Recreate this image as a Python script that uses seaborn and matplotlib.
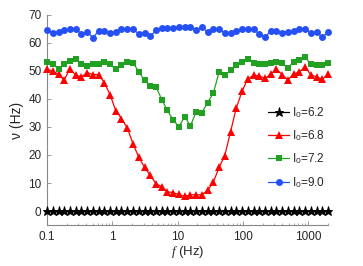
import numpy as np
import pandas as pd
import matplotlib
matplotlib.use('Agg')
import matplotlib.pyplot as plt
import matplotlib.ticker as mticker
import seaborn as sns

sns.set_style('ticks')
plt.rcParams['font.family'] = ['Liberation Sans', 'DejaVu Sans']
plt.rcParams['mathtext.fontset'] = 'custom'
plt.rcParams['mathtext.rm'] = 'Liberation Sans'
plt.rcParams['mathtext.it'] = 'Liberation Serif:italic'

# stimulation frequency (Hz)
freq = [0.1, 0.122, 0.150, 0.183, 0.224, 0.275, 0.336, 0.411, 0.504, 0.617,
        0.755, 0.924, 1.13, 1.38, 1.70, 2.07, 2.54, 3.11, 3.81, 4.66,
        5.70, 6.98, 8.55, 10.5, 12.8, 15.7, 19.2, 23.5, 28.7, 35.2,
        43.1, 52.7, 64.5, 79.0, 96.7, 118, 145, 177, 217, 265,
        325, 397, 486, 595, 729, 892, 1092, 1337, 1636, 2000]

nu_62 = [0.0] * 50

nu_68 = [50.6, 50.0, 48.8, 46.7, 50.8, 48.5, 47.9, 49.4, 48.7, 48.7,
         45.8, 41.5, 35.8, 33.0, 29.6, 24.0, 19.2, 15.6, 12.7, 9.8,
         8.6, 6.9, 6.5, 5.9, 5.2, 5.8, 5.8, 5.8, 7.4, 10.3,
         15.6, 19.8, 28.3, 36.8, 42.7, 47.2, 48.4, 48.3, 47.3, 48.8,
         50.6, 48.7, 46.8, 48.8, 49.7, 51.3, 48.7, 47.8, 47.0, 48.8]

nu_72 = [53.2, 52.6, 50.8, 52.6, 53.5, 54.4, 52.3, 51.7, 52.3, 52.6,
         53.2, 52.4, 50.6, 52.0, 53.2, 53.0, 49.7, 46.6, 44.6, 44.4,
         39.8, 35.9, 32.4, 30.1, 33.7, 30.4, 35.4, 35.1, 38.7, 42.1,
         49.6, 48.4, 50.2, 52.2, 53.3, 54.4, 52.7, 52.5, 52.5, 53.0,
         53.3, 52.7, 51.0, 53.3, 53.9, 54.9, 52.5, 52.0, 52.0, 53.0]

nu_90 = [64.5, 63.6, 63.9, 64.5, 65.0, 65.0, 63.2, 63.9, 61.9, 64.2,
         64.4, 63.5, 63.9, 64.8, 65.0, 64.9, 63.2, 63.7, 62.4, 64.5,
         65.4, 65.4, 65.4, 65.6, 65.8, 65.8, 64.6, 65.6, 63.9, 64.9,
         64.8, 63.7, 63.7, 64.3, 64.9, 65.1, 64.8, 63.3, 62.1, 64.2,
         64.3, 63.6, 63.9, 64.2, 65.0, 65.0, 63.6, 63.9, 62.1, 63.8]

labels = ['I$_0$=6.2', 'I$_0$=6.8', 'I$_0$=7.2', 'I$_0$=9.0']
series = [nu_62, nu_68, nu_72, nu_90]
colors = ['#000000', '#ff0000', '#22a022', '#2450f5']
markers = ['*', '^', 's', 'o']
msizes = [6.5, 5.5, 4.5, 5]
medges = [0.7, 0, 0, 0]

fig = plt.figure(figsize=(3.63, 2.66), dpi=100)
ax = fig.add_axes([0.1295, 0.154, 0.774, 0.79])

for vals, lab, c, m, ms, mew in zip(series, labels, colors, markers, msizes, medges):
    df = pd.DataFrame({'f': freq, 'nu': vals})
    sns.lineplot(data=df, x='f', y='nu', ax=ax, color=c, marker=m,
                 markersize=ms, markeredgewidth=mew, markeredgecolor=c,
                 linewidth=0.9, label=lab, clip_on=False, zorder=3)

ax.set_xscale('log')
ax.set_xlim(0.1, 2000)
ax.set_ylim(-5, 70)
ax.set_yticks(range(0, 71, 10))
ax.set_xticks([0.1, 1, 10, 100, 1000])
ax.xaxis.set_major_formatter(mticker.FixedFormatter(['0.1', '1', '10', '100', '1000']))
ax.xaxis.set_minor_locator(mticker.LogLocator(base=10, subs=np.arange(2, 10)))
ax.xaxis.set_minor_formatter(mticker.NullFormatter())

for s in ['top', 'right']:
    ax.spines[s].set_visible(False)
for s in ['left', 'bottom']:
    ax.spines[s].set_color('#888888')
    ax.spines[s].set_linewidth(0.8)

ax.tick_params(axis='both', which='major', direction='in', length=3,
               width=0.6, color='#888888', labelsize=8.5, pad=4)
ax.tick_params(axis='x', which='minor', direction='in', length=1.8,
               width=0.5, color='#888888')

ax.set_xlabel('$f$ (Hz)', fontsize=9.5, labelpad=1)
ax.set_ylabel('ν (Hz)', fontsize=10, labelpad=3)

ax.legend(loc='center left', bbox_to_anchor=(0.77, 0.37), frameon=False,
          fontsize=8.5, handlelength=1.8, handletextpad=0.2, labelspacing=0.72,
          borderaxespad=0)

fig.savefig('out.png', dpi=100)
